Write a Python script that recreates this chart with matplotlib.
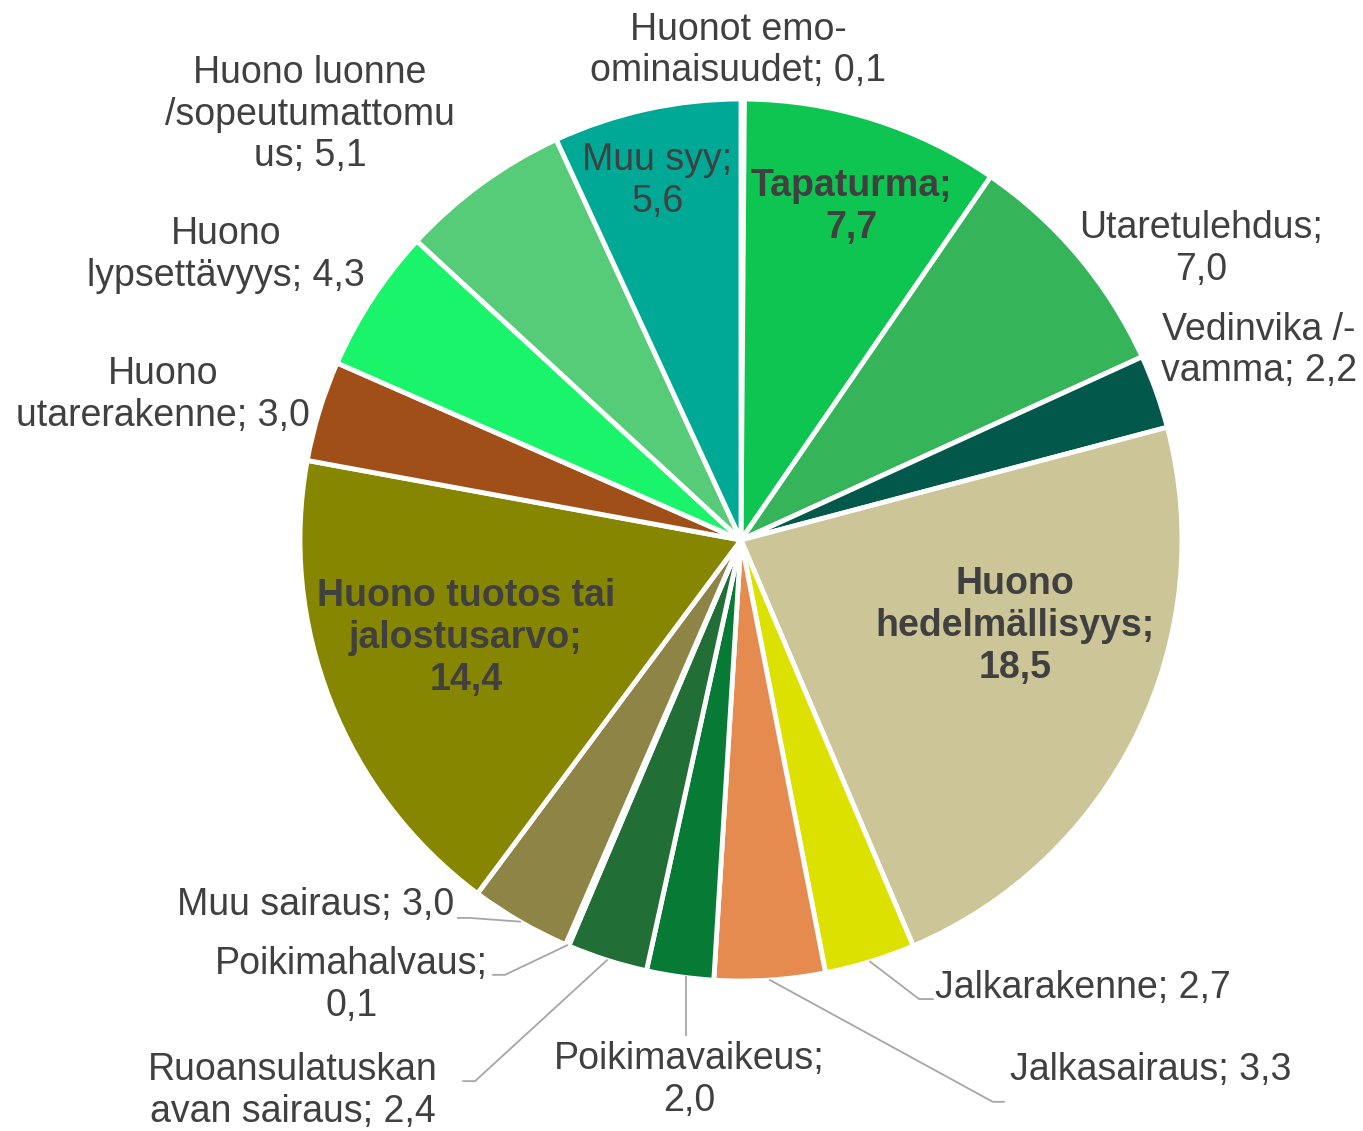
import numpy as np
import matplotlib.pyplot as plt

plt.rcParams['font.family'] = ['Liberation Sans', 'DejaVu Sans']

# data, clockwise from top
labels = ['Huonot emo-\nominaisuudet; 0,1', 'Tapaturma;\n7,7', 'Utaretulehdus;\n7,0',
          'Vedinvika /-\nvamma; 2,2', 'Huono\nhedelmällisyys;\n18,5', 'Jalkarakenne; 2,7',
          'Jalkasairaus; 3,3', 'Poikimavaikeus;\n2,0', 'Ruoansulatuskan\navan sairaus; 2,4',
          'Poikimahalvaus;\n0,1', 'Muu sairaus; 3,0', 'Huono tuotos tai\njalostusarvo;\n14,4',
          'Huono\nutarerakenne; 3,0', 'Huono\nlypsettävyys; 4,3',
          'Huono luonne\n/sopeutumattomu\nus; 5,1', 'Muu syy;\n5,6']
values = [0.1, 7.7, 7.0, 2.2, 18.5, 2.7, 3.3, 2.0, 2.4, 0.1, 3.0, 14.4, 3.0, 4.3, 5.1, 5.6]
colors = ['#0fc552', '#0fc552', '#36b45a', '#01584b', '#ccc597', '#dde100',
          '#e58b4f', '#077a35', '#216e36', '#216e36', '#8d8446', '#868600',
          '#a04f18', '#1af46a', '#57cc78', '#00a896']
bold = [False, True, False, False, True, False, False, False, False,
        False, False, True, False, False, False, False]

# label placement (pie radius = 1)
label_pos = [(-0.007, 1.11), (0.25, 0.755), (1.043, 0.66), (1.175, 0.43),
             (0.621, -0.195), (0.44, -1.016), (0.61, -1.202), (-0.118, -1.224),
             (-1.016, -1.249), (-0.884, -1.009), (-0.964, -0.828), (-0.624, -0.222),
             (-1.311, 0.329), (-1.168, 0.646), (-0.977, 0.964), (-0.19, 0.814)]
label_ha = ['center'] * 16
label_ha[5] = 'left'
label_ha[6] = 'left'
# leader lines: index -> (elbow, end)
leaders = {5: [(0.404, -1.041), (0.435, -1.041)],
           6: [(0.571, -1.274), (0.596, -1.274)],
           7: [(-0.125, -1.122)],
           8: [(-0.603, -1.227), (-0.630, -1.227)],
           9: [(-0.535, -0.986), (-0.562, -0.986)],
           10: [(-0.615, -0.857), (-0.642, -0.857)]}

W, H = 1363, 1131
fig = plt.figure(figsize=(W / 100, H / 100), dpi=100)
cx, cy, R = 741, 540, 441
ax = fig.add_axes([(cx - R) / W, (H - cy - R) / H, 2 * R / W, 2 * R / H])

wedges, _ = ax.pie(values, colors=colors, startangle=90, counterclock=False,
                   radius=1, wedgeprops=dict(edgecolor='white', linewidth=3.5))
ax.set_xlim(-1, 1)
ax.set_ylim(-1, 1)
ax.set_aspect('equal')
ax.axis('off')

for i, w in enumerate(wedges):
    x, y = label_pos[i]
    ax.text(x, y, labels[i], ha=label_ha[i], va='center', fontsize=27,
            color='#404040', fontweight='bold' if bold[i] else 'normal',
            linespacing=1.2, clip_on=False)
    if i in leaders:
        th = np.deg2rad((w.theta1 + w.theta2) / 2)
        p0 = (np.cos(th), np.sin(th))
        if i == 7:
            p0 = (leaders[i][0][0], np.sin(th))  # vertical leader
        pts = [p0] + leaders[i]
        xs, ys = zip(*pts)
        ax.plot(xs, ys, color='#a6a6a6', lw=1.3, clip_on=False)

fig.savefig('out.png', dpi=100)
